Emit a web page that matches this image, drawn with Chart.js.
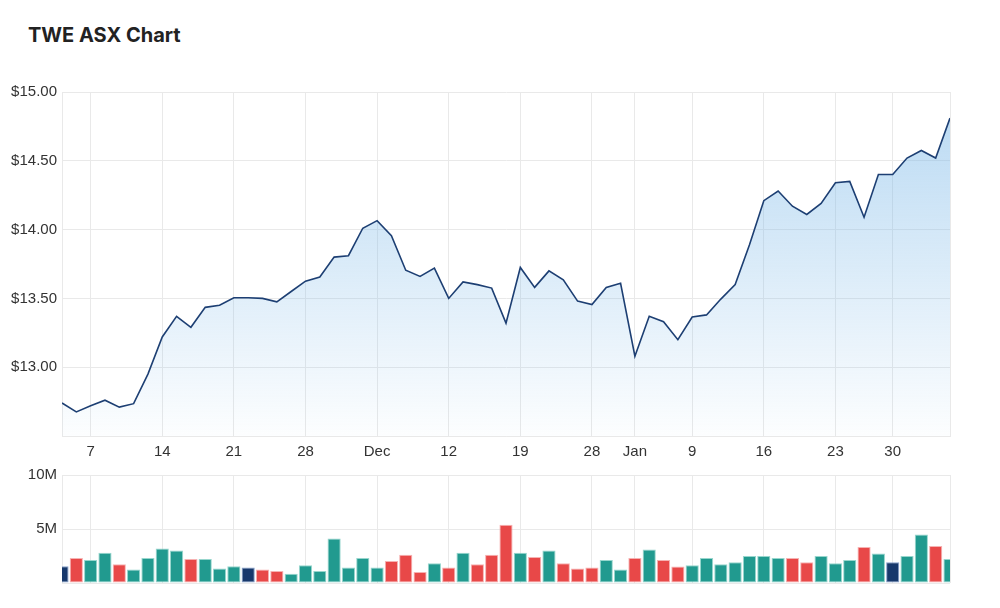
<!DOCTYPE html>
<html><head><meta charset="utf-8">
<script src="https://cdn.jsdelivr.net/npm/chart.js@4.4.0/dist/chart.umd.min.js"></script>
<style>
html,body{margin:0;padding:0;background:#fff;width:1000px;height:608px;overflow:hidden}
#title{position:absolute;left:28px;top:23px;font-family:Inter,sans-serif;font-weight:700;font-size:20px;line-height:24px;color:#222}
#w1{position:absolute;left:0;top:72px;width:1000px;height:400px}
#w2{position:absolute;left:0;top:455px;width:1000px;height:153px}
</style></head><body>
<div id="title">TWE ASX Chart</div>
<div id="w1"><canvas id="c1"></canvas></div>
<div id="w2"><canvas id="c2"></canvas></div>
<script>
const dates = [
 '2022-11-03','2022-11-04','2022-11-07','2022-11-08','2022-11-09','2022-11-10','2022-11-11','2022-11-14','2022-11-15','2022-11-16',
 '2022-11-17','2022-11-18','2022-11-21','2022-11-22','2022-11-23','2022-11-24','2022-11-25','2022-11-28','2022-11-29','2022-11-30',
 '2022-12-01','2022-12-02','2022-12-05','2022-12-06','2022-12-07','2022-12-08','2022-12-09','2022-12-12','2022-12-13','2022-12-14',
 '2022-12-15','2022-12-16','2022-12-19','2022-12-20','2022-12-21','2022-12-22','2022-12-23','2022-12-28','2022-12-29','2022-12-30',
 '2023-01-03','2023-01-04','2023-01-05','2023-01-06','2023-01-09','2023-01-10','2023-01-11','2023-01-12','2023-01-13','2023-01-16',
 '2023-01-17','2023-01-18','2023-01-19','2023-01-20','2023-01-23','2023-01-24','2023-01-25','2023-01-27','2023-01-30','2023-01-31',
 '2023-02-01','2023-02-02','2023-02-03'
];
const closes = [
 12.74,12.675,12.72,12.76,12.71,12.735,12.95,13.22,13.37,13.29,
 13.435,13.45,13.505,13.505,13.50,13.475,13.55,13.625,13.655,13.80,
 13.81,14.01,14.065,13.955,13.705,13.66,13.72,13.50,13.62,13.60,
 13.575,13.32,13.725,13.58,13.70,13.635,13.48,13.455,13.58,13.61,
 13.08,13.37,13.33,13.20,13.365,13.38,13.495,13.60,13.89,14.21,
 14.28,14.17,14.11,14.19,14.34,14.35,14.09,14.40,14.40,14.52,
 14.575,14.52,14.81
];
const volumesM = [
 1.55,2.32,2.14,2.81,1.73,1.24,2.32,3.2,3.02,2.23,
 2.23,1.34,1.55,1.43,1.24,1.12,0.85,1.64,1.12,4.13,
 1.43,2.32,1.43,2.04,2.62,1.03,1.82,1.43,2.81,1.73,
 2.62,5.39,2.81,2.41,3.02,1.82,1.34,1.43,2.14,1.24,
 2.32,3.11,2.14,1.52,1.64,2.32,1.73,1.92,2.5,2.5,
 2.32,2.32,1.92,2.5,1.82,2.14,3.33,2.72,1.92,2.5,
 4.5,3.43,2.23
];
const tickDates = ['2022-11-07','2022-11-14','2022-11-21','2022-11-28','2022-12-05','2022-12-12','2022-12-19','2022-12-28','2023-01-03','2023-01-09','2023-01-16','2023-01-23','2023-01-30'];
const tickText = ['7','14','21','28','Dec','12','19','28','Jan','9','16','23','30'];
const priceTicks = [15.0,14.5,14.0,13.5,13.0];
const volumeTicksM = [10,5];

const FONT = '"Liberation Sans", Arial, sans-serif';
const TICK_SIZE = 15;
const GRID = '#e9e9e9';
const TXT = '#333';
const N = dates.length;
function labelFor(i){ const k = tickDates.indexOf(dates[i]); return k >= 0 ? tickText[k] : ''; }
function gridX(ctx){ const i = ctx.index; return (i === 0 || i === N-1 || labelFor(i) !== '') ? GRID : 'rgba(0,0,0,0)'; }

const UP = '#219a8f', DOWN = '#e84848', FLAT = '#17386c';
const UPB = 'rgba(140,210,200,0.9)', DOWNB = 'rgba(245,170,170,0.9)', FLATB = 'rgba(120,150,200,0.9)';
const barFill = closes.map((c,i)=> i===0 || c===closes[i-1] ? FLAT : (c>closes[i-1]?UP:DOWN));
const barBorder = closes.map((c,i)=> i===0 || c===closes[i-1] ? FLATB : (c>closes[i-1]?UPB:DOWNB));

Chart.defaults.font.family = FONT;
Chart.defaults.color = TXT;

new Chart(document.getElementById('c1'), {
  type: 'line',
  data: { labels: dates, datasets: [{
    data: closes,
    borderColor: '#1d3f73',
    borderWidth: 1.6,
    pointRadius: 0,
    tension: 0,
    fill: 'start',
    clip: 0,
    backgroundColor: (ctx) => {
      const a = ctx.chart.chartArea;
      if (!a) return 'rgba(120,180,230,0.3)';
      const g = ctx.chart.ctx.createLinearGradient(0, a.top, 0, a.bottom);
      g.addColorStop(0, 'rgba(125,185,232,0.55)');
      g.addColorStop(1, 'rgba(125,185,232,0.02)');
      return g;
    }
  }]},
  options: {
    responsive: true, maintainAspectRatio: false, animation: false,
    layout: { padding: { top: 20, right: 50, bottom: 0, left: 0 } },
    plugins: { legend: { display: false }, tooltip: { enabled: false } },
    scales: {
      x: {
        type: 'category', offset: false,
        afterFit: (s) => { s.height = 36; },
        grid: { color: gridX, drawTicks: false, offset: false },
        border: { display: true, color: GRID },
        ticks: { autoSkip: false, maxRotation: 0, padding: 7, font: { size: TICK_SIZE }, color: TXT,
                 callback: (v, i) => labelFor(i) }
      },
      y: {
        min: 12.5, max: 15,
        afterFit: (s) => { s.width = 62; },
        afterBuildTicks: (s) => { s.ticks = [12.5].concat(priceTicks.slice().reverse()).map(v => ({ value: v })); },
        grid: { color: GRID, drawTicks: false },
        border: { display: true, color: GRID },
        ticks: { padding: 5, font: { size: TICK_SIZE }, color: TXT,
                 callback: (v) => priceTicks.includes(v) ? '$' + v.toFixed(2) : '' }
      }
    }
  }
});

new Chart(document.getElementById('c2'), {
  type: 'bar',
  data: { labels: dates, datasets: [{
    data: volumesM,
    backgroundColor: barFill,
    borderColor: barBorder,
    borderWidth: 1,
    borderSkipped: false,
    barPercentage: 1,
    categoryPercentage: 0.92,
    clip: 0
  }]},
  options: {
    responsive: true, maintainAspectRatio: false, animation: false,
    layout: { padding: { top: 20, right: 50, bottom: 25, left: 0 } },
    plugins: { legend: { display: false }, tooltip: { enabled: false } },
    scales: {
      x: {
        type: 'category', offset: false,
        afterFit: (s) => { s.height = 0; },
        grid: { color: gridX, drawTicks: false, offset: false },
        border: { display: false },
        ticks: { display: false, autoSkip: false }
      },
      y: {
        min: 0, max: 10,
        afterFit: (s) => { s.width = 62; },
        afterBuildTicks: (s) => { s.ticks = [0].concat(volumeTicksM.slice().reverse()).map(v => ({ value: v })); },
        grid: { color: GRID, drawTicks: false },
        border: { display: false },
        ticks: { padding: 5, font: { size: TICK_SIZE }, color: TXT,
                 callback: (v) => volumeTicksM.includes(v) ? v + 'M' : '' }
      }
    }
  }
});
</script>
</body></html>
